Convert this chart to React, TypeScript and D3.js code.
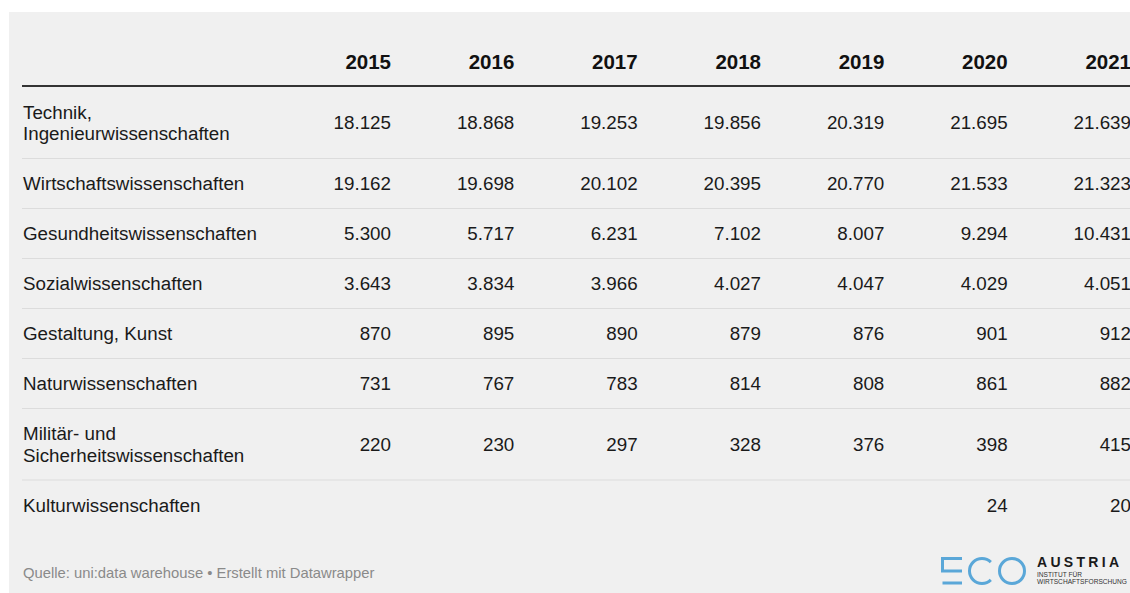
import React from "react";
import * as d3 from "d3";

const years = ["2015", "2016", "2017", "2018", "2019", "2020", "2021"];
const categories: string[][] = [
  ["Technik,", "Ingenieurwissenschaften"],
  ["Wirtschaftswissenschaften"],
  ["Gesundheitswissenschaften"],
  ["Sozialwissenschaften"],
  ["Gestaltung, Kunst"],
  ["Naturwissenschaften"],
  ["Militär- und", "Sicherheitswissenschaften"],
  ["Kulturwissenschaften"],
];
const valTechnik = [18125, 18868, 19253, 19856, 20319, 21695, 21639];
const valWirtschaft = [19162, 19698, 20102, 20395, 20770, 21533, 21323];
const valGesundheit = [5300, 5717, 6231, 7102, 8007, 9294, 10431];
const valSozial = [3643, 3834, 3966, 4027, 4047, 4029, 4051];
const valGestaltung = [870, 895, 890, 879, 876, 901, 912];
const valNatur = [731, 767, 783, 814, 808, 861, 882];
const valMilitaer = [220, 230, 297, 328, 376, 398, 415];
const valKultur: (number | null)[] = [null, null, null, null, null, 24, 20];
const rows = [valTechnik, valWirtschaft, valGesundheit, valSozial, valGestaltung, valNatur, valMilitaer, valKultur];
const sourceText = "Quelle: uni:data warehouse • Erstellt mit Datawrapper";

const W = 1130;
const H = 593;
const FONT = "'Liberation Sans', Arial, Helvetica, sans-serif";

export default function App() {
  const x = d3.scalePoint<string>().domain(years).range([391, 1131]);
  const fmt = d3.formatLocale({ decimal: ",", thousands: ".", grouping: [3], currency: ["", "€"] }).format(",d");

  const rowHeights = categories.map((c) => (c.length > 1 ? 71.5 : 50));
  const tops: number[] = [];
  let acc = 87;
  rowHeights.forEach((h) => {
    tops.push(acc);
    acc += h;
  });

  const bodySize = 18.8;
  const lineH = 21.5;

  const cPath = d3.path();
  cPath.arc(982, 571, 12.5, Math.PI * 0.25, Math.PI * 1.75, false);

  return (
    <svg width={W} height={H} style={{ position: "absolute", left: 0, top: 0 }} fontFamily={FONT}>
      <rect x={0} y={0} width={W} height={H} fill="#ffffff" />
      <rect x={9} y={12} width={W - 9} height={H - 12} fill="#f0f0f0" />
      {years.map((y) => (
        <text key={y} x={x(y)} y={61} textAnchor="end" dominantBaseline="central" fontWeight="bold" fontSize={20.5} fill="#111">
          {y}
        </text>
      ))}
      <line x1={22} x2={W} y1={86} y2={86} stroke="#333" strokeWidth={2} />
      {categories.map((lines, i) => {
        const top = tops[i];
        const h = rowHeights[i];
        const cy = top + h / 2;
        return (
          <g key={i}>
            {lines.map((ln, j) => (
              <text
                key={j}
                x={23}
                y={cy + (j - (lines.length - 1) / 2) * lineH}
                dominantBaseline="central"
                fontSize={bodySize}
                fill="#1a1a1a"
              >
                {ln}
              </text>
            ))}
            {rows[i].map((v, k) =>
              v == null ? null : (
                <text key={k} x={x(years[k])} y={cy} textAnchor="end" dominantBaseline="central" fontSize={bodySize} fill="#1a1a1a">
                  {fmt(v)}
                </text>
              )
            )}
            {i < categories.length - 1 && (
              <line x1={22} x2={W} y1={top + h} y2={top + h} stroke="#dcdcdc" strokeWidth={1} />
            )}
          </g>
        );
      })}
      <text x={23} y={573} dominantBaseline="central" fontSize={14.8} fill="#8a8a8a">
        {sourceText}
      </text>
      <g stroke="#5aa7d8" strokeWidth={3} fill="none">
        <path d="M962,558.5 H942.5 V571 H962" />
        <path d="M942.5,583 H962" />
        <path d={cPath.toString()} />
        <circle cx={1012} cy={571} r={12.5} />
      </g>
      <text x={1037} y={567} fontWeight="bold" fontSize={14} letterSpacing={3.3} fill="#1a1a1a">
        AUSTRIA
      </text>
      <text x={1037} y={577} fontSize={6.6} fill="#333">
        INSTITUT FÜR
      </text>
      <text x={1037} y={584} fontSize={6.6} fill="#333">
        WIRTSCHAFTSFORSCHUNG
      </text>
    </svg>
  );
}
